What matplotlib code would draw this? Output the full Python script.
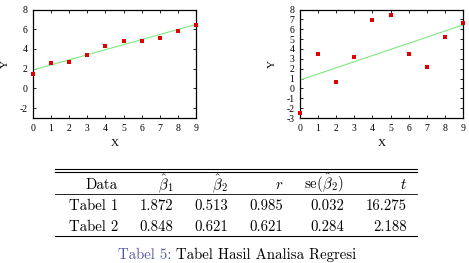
import matplotlib
matplotlib.use("Agg")
import matplotlib.pyplot as plt
import numpy as np
from matplotlib.lines import Line2D

plt.rcParams['mathtext.fontset'] = 'cm'

x = [0, 1, 2, 3, 4, 5, 6, 7, 8, 9]
y1 = [1.5, 2.57, 2.7, 3.43, 4.27, 4.77, 4.77, 5.1, 5.87, 6.47]
y2 = [-2.47, 3.45, 0.6, 3.17, 6.96, 7.47, 3.5, 2.13, 5.24, 6.59]
fit1 = (1.872, 0.513)
fit2 = (0.848, 0.621)

header = [r'Data', r'$\hat{\beta}_1$', r'$\hat{\beta}_2$', r'$r$', r'se$(\hat{\beta}_2)$', r'$t$']
rows = [
    ['Tabel 1', '1.872', '0.513', '0.985', '0.032', '16.275'],
    ['Tabel 2', '0.848', '0.621', '0.621', '0.284', '2.188'],
]
caption_label = 'Tabel 5:'
caption_text = 'Tabel Hasil Analisa Regresi'

W, H = 469, 263
fig = plt.figure(figsize=(W / 100, H / 100), dpi=100)

def fx(px):
    return px / W

def fy(py):
    return 1 - py / H

serif = 'Liberation Serif'

def make_ax(left_px, yvals, fit, yticks):
    ax = fig.add_axes([fx(left_px), fy(118), fx(163), (118 - 9.5) / H])
    xs = np.array(x, dtype=float)
    ax.plot(xs, fit[0] + fit[1] * xs, color='#7ee87e', lw=0.8, zorder=2)
    ax.plot(x, yvals, 's', color='#e00000', ms=3.0, mew=0, zorder=3, clip_on=False)
    ax.set_xlim(0, 9)
    ax.set_ylim(-3, 8)
    ax.set_xticks(range(0, 10))
    ax.set_yticks(yticks)
    ax.set_yticklabels([str(t) for t in yticks])
    ax.tick_params(direction='in', length=2.5, width=0.6, top=True, right=True,
                   labelsize=7, pad=4)
    for lab in ax.get_xticklabels() + ax.get_yticklabels():
        lab.set_fontfamily(serif)
    for sp in ax.spines.values():
        sp.set_linewidth(0.9)
    ax.set_xlabel('X', fontfamily=serif, fontsize=8, labelpad=5)
    ax.set_ylabel('Y', fontfamily=serif, fontsize=8, labelpad=7)
    return ax

make_ax(33, y1, fit1, list(range(-2, 9, 2)))
make_ax(300, y2, fit2, list(range(-3, 9)))

# table
cm = 'cmr10'
fs = 10.7
col_right = [118, 173, 228, 283, 344, 407]
base_y = [189, 210, 231]
for j, h in enumerate(header):
    fig.text(fx(col_right[j]), fy(base_y[0]), h, ha='right', va='baseline',
             fontsize=fs, fontfamily=cm)
for i, r in enumerate(rows):
    for j, v in enumerate(r):
        fig.text(fx(col_right[j]), fy(base_y[i + 1]), v, ha='right', va='baseline',
                 fontsize=fs, fontfamily=cm)

def hrule(py, lw=0.8):
    fig.add_artist(Line2D([fx(55), fx(417)], [fy(py), fy(py)], color='black', lw=lw,
                          transform=fig.transFigure))

hrule(169.3)
hrule(172.3)
hrule(194.3, 0.6)
hrule(236)

t1 = fig.text(fx(118), fy(259), caption_label, ha='left', va='baseline',
              fontsize=fs, fontfamily=cm, color='#5555aa')
fig.canvas.draw()
bb = t1.get_window_extent()
fig.text(bb.x1 / W + fx(5), fy(259), caption_text, ha='left', va='baseline',
         fontsize=fs, fontfamily=cm, color='black')

fig.savefig('out.png', dpi=100)
